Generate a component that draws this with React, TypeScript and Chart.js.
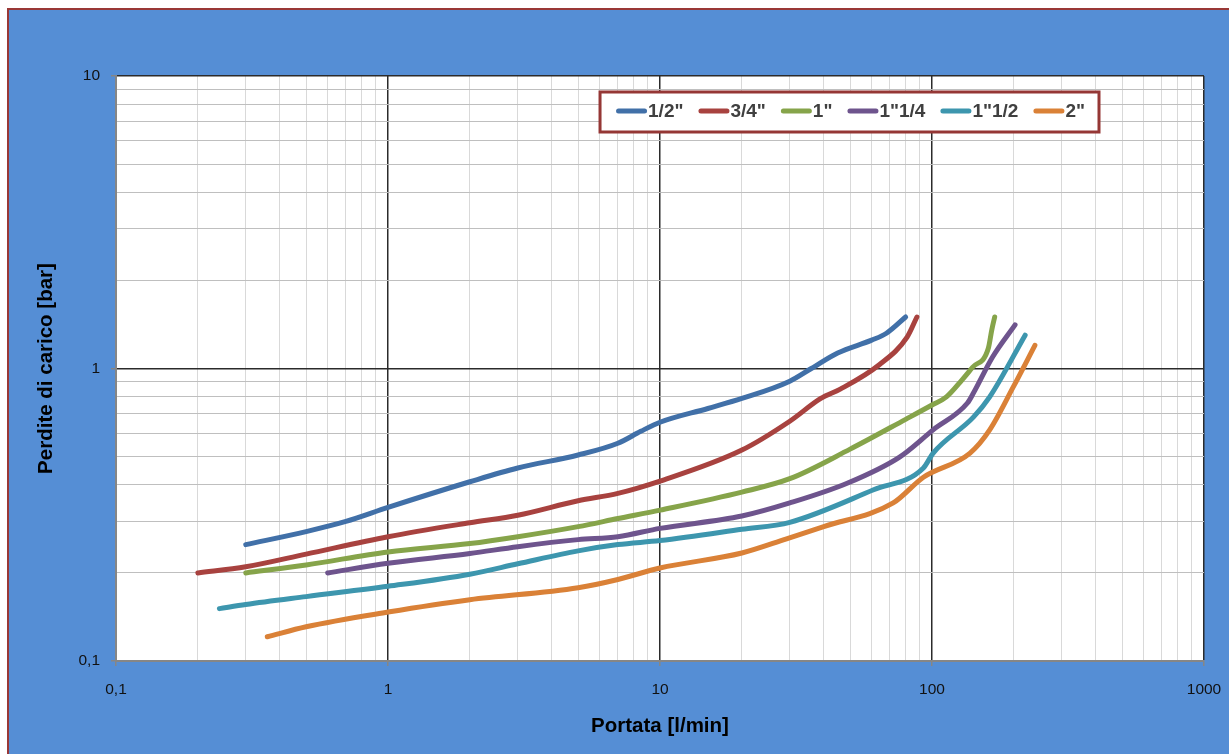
import { useEffect, useRef } from "react";
import { Chart, registerables } from "chart.js";

Chart.register(...registerables);

// ---- Data ----
const seriesLabels = ['1/2"', '3/4"', '1"', '1"1/4', '1"1/2', '2"'];
const seriesColors = ["#4170A8", "#A8423F", "#86A44A", "#6E548D", "#3D96AE", "#DA8137"];

const flowHalf = [0.3, 0.5, 0.7, 1, 2, 3, 5, 7, 8.5, 10, 15, 20, 30, 36, 45, 60, 68, 80];
const lossHalf = [0.25, 0.277, 0.3, 0.335, 0.41, 0.457, 0.506, 0.555, 0.61, 0.655, 0.73, 0.79, 0.905, 1.0, 1.13, 1.25, 1.32, 1.5];

const flowThreeQuarter = [0.2, 0.3, 0.5, 1, 2, 3, 5, 7, 10, 20, 30, 39, 46, 64, 81, 88];
const lossThreeQuarter = [0.2, 0.21, 0.232, 0.266, 0.297, 0.315, 0.353, 0.374, 0.412, 0.526, 0.66, 0.79, 0.85, 1.03, 1.28, 1.5];

const flowOne = [0.3, 0.5, 1, 2, 3, 5, 7, 10, 20, 30, 50, 80, 100, 113, 129, 141, 161, 166, 170];
const lossOne = [0.2, 0.213, 0.236, 0.252, 0.266, 0.288, 0.307, 0.328, 0.378, 0.42, 0.53, 0.67, 0.75, 0.8, 0.915, 1.01, 1.17, 1.36, 1.5];

const flowOneQuarter = [0.6, 1, 2, 3, 5, 7, 10, 20, 30, 49, 76, 101, 135, 142, 167, 202];
const lossOneQuarter = [0.2, 0.216, 0.233, 0.246, 0.26, 0.266, 0.284, 0.313, 0.347, 0.406, 0.498, 0.617, 0.762, 0.824, 1.095, 1.41];

const flowOneHalf = [0.24, 0.3, 0.5, 1, 2, 3, 5, 7, 10, 20, 30, 61, 93, 101, 142, 163, 220];
const lossOneHalf = [0.151, 0.156, 0.166, 0.18, 0.198, 0.215, 0.238, 0.25, 0.258, 0.282, 0.298, 0.385, 0.457, 0.514, 0.682, 0.8, 1.3];

const flowTwo = [0.36, 0.5, 1, 2, 5, 7, 10, 20, 29, 40, 72, 93, 138, 163, 199, 239];
const lossTwo = [0.121, 0.131, 0.147, 0.162, 0.178, 0.19, 0.208, 0.234, 0.261, 0.288, 0.347, 0.425, 0.514, 0.617, 0.865, 1.2];

const xTickValues = [0.1, 1, 10, 100, 1000];
const xTickLabels = ["0,1", "1", "10", "100", "1000"];
const yTickValues = [0.1, 1, 10];
const yTickLabels = ["0,1", "1", "10"];
const minorMultipliers = [1, 2, 3, 4, 5, 6, 7, 8, 9];

const xTitle = "Portata [l/min]";
const yTitle = "Perdite di carico [bar]";

const seriesFlows = [flowHalf, flowThreeQuarter, flowOne, flowOneQuarter, flowOneHalf, flowTwo];
const seriesLosses = [lossHalf, lossThreeQuarter, lossOne, lossOneQuarter, lossOneHalf, lossTwo];

// ---- helpers ----
const FONT = "'Liberation Sans', Arial, sans-serif";
const isPow10 = (v: number) => Math.abs(Math.log10(v) - Math.round(Math.log10(v))) < 1e-6;
const labelFor = (v: number, values: number[], labels: string[]) => {
  const i = values.findIndex((t) => Math.abs(t - v) / t < 1e-6);
  return i >= 0 ? labels[i] : "";
};
const gridTicks = (decades: number[]) => {
  const out: { value: number }[] = [];
  for (let d = 0; d < decades.length - 1; d++) {
    minorMultipliers.forEach((m) => out.push({ value: decades[d] * m }));
  }
  out.push({ value: decades[decades.length - 1] });
  return out;
};

const boxLegend = {
  id: "boxLegend",
  afterDraw(chart: any) {
    const { ctx, chartArea } = chart;
    ctx.save();
    ctx.font = `bold 19px ${FONT}`;
    const lineLen = 31;
    const textGap = 1;
    const itemGap = 15;
    const padL = 16;
    const padR = 14;
    const items = chart.data.datasets.map((ds: any) => ({
      label: ds.label as string,
      color: ds.borderColor as string,
      w: ctx.measureText(ds.label).width as number,
    }));
    const total =
      items.reduce((s: number, it: any) => s + lineLen + textGap + it.w, 0) +
      itemGap * (items.length - 1) +
      padL +
      padR;
    const right = chartArea.right - 105;
    const left = right - total;
    const top = chartArea.top + 16;
    const h = 40;
    ctx.fillStyle = "#ffffff";
    ctx.fillRect(left, top, total, h);
    ctx.strokeStyle = "#953735";
    ctx.lineWidth = 3;
    ctx.strokeRect(left, top, total, h);
    let x = left + padL;
    const cy = top + h / 2 - 1;
    items.forEach((it: any) => {
      ctx.strokeStyle = it.color;
      ctx.lineWidth = 5;
      ctx.lineCap = "round";
      ctx.beginPath();
      ctx.moveTo(x + 2.5, cy);
      ctx.lineTo(x + lineLen - 2.5, cy);
      ctx.stroke();
      x += lineLen + textGap;
      ctx.fillStyle = "#404040";
      ctx.textBaseline = "middle";
      ctx.textAlign = "left";
      ctx.fillText(it.label, x, cy + 1);
      x += it.w + itemGap;
    });
    ctx.restore();
  },
};

export default function App() {
  const canvasRef = useRef<HTMLCanvasElement | null>(null);

  useEffect(() => {
    const canvas = canvasRef.current;
    if (!canvas) return;
    const datasets = seriesLabels.map((label, i) => ({
      label,
      data: seriesFlows[i].map((x, j) => ({ x, y: seriesLosses[i][j] })),
      borderColor: seriesColors[i],
      backgroundColor: seriesColors[i],
      borderWidth: 5,
      borderCapStyle: "round" as const,
      borderJoinStyle: "round" as const,
      pointRadius: 0,
      pointHoverRadius: 0,
      fill: false,
      cubicInterpolationMode: "monotone" as const,
    }));

    const chart = new Chart(canvas, {
      type: "line",
      data: { datasets },
      options: {
        animation: false,
        responsive: false,
        maintainAspectRatio: false,
        layout: { padding: { top: 66, right: 25, left: 0, bottom: 0 } },
        plugins: {
          legend: { display: false },
          tooltip: { enabled: false },
        },
        scales: {
          x: {
            type: "logarithmic",
            min: 0.1,
            max: 1000,
            afterBuildTicks: (scale: any) => {
              scale.ticks = gridTicks(xTickValues);
            },
            afterFit: (scale: any) => {
              scale.height = 93;
              scale.paddingLeft = 0;
              scale.paddingRight = 0;
            },
            border: { color: "#868686", width: 2 },
            grid: {
              color: (c: any) => (c.tick && isPow10(c.tick.value) ? "#2b2b2b" : "#d9d9d9"),
              lineWidth: (c: any) => (c.tick && isPow10(c.tick.value) ? 1.5 : 1),
              tickColor: (c: any) => (c.tick && isPow10(c.tick.value) ? "#868686" : "rgba(0,0,0,0)"),
              tickLength: 5,
            },
            ticks: {
              autoSkip: false,
              maxRotation: 0,
              minRotation: 0,
              padding: 14,
              color: "#111111",
              font: { family: FONT, size: 15.5 },
              callback: (v: any) => labelFor(Number(v), xTickValues, xTickLabels),
            },
            title: {
              display: true,
              text: xTitle,
              color: "#000000",
              font: { family: FONT, size: 20.5, weight: "bold" },
              padding: { top: 0, bottom: 15 },
            },
          },
          y: {
            type: "logarithmic",
            min: 0.1,
            max: 10,
            afterBuildTicks: (scale: any) => {
              scale.ticks = gridTicks(yTickValues);
            },
            afterFit: (scale: any) => {
              scale.width = 107;
              scale.paddingTop = 0;
              scale.paddingBottom = 0;
            },
            border: { color: "#868686", width: 2 },
            grid: {
              color: (c: any) => (c.tick && isPow10(c.tick.value) ? "#2b2b2b" : "#bfbfbf"),
              lineWidth: (c: any) => (c.tick && isPow10(c.tick.value) ? 1.5 : 1),
              tickColor: (c: any) => (c.tick && isPow10(c.tick.value) ? "#868686" : "rgba(0,0,0,0)"),
              tickLength: 5,
            },
            ticks: {
              autoSkip: false,
              padding: 11,
              color: "#111111",
              font: { family: FONT, size: 15.5 },
              callback: (v: any) => labelFor(Number(v), yTickValues, yTickLabels),
            },
            title: {
              display: true,
              text: yTitle,
              color: "#000000",
              font: { family: FONT, size: 20.5, weight: "bold" },
              padding: { top: 25, bottom: 0 },
            },
          },
        },
      },
      plugins: [
        {
          id: "plotBg",
          beforeDraw(chart: any) {
            const { ctx, chartArea } = chart;
            ctx.save();
            ctx.fillStyle = "#ffffff";
            ctx.fillRect(chartArea.left, chartArea.top, chartArea.right - chartArea.left, chartArea.bottom - chartArea.top);
            ctx.restore();
          },
        },
        boxLegend,
      ],
    });
    return () => chart.destroy();
  }, []);

  return (
    <div
      style={{
        position: "fixed",
        left: 7,
        top: 8,
        right: 0,
        bottom: 0,
        borderLeft: "2px solid #993836",
        borderTop: "2px solid #993836",
        background: "#558ED5",
        overflow: "hidden",
      }}
    >
      <canvas ref={canvasRef} width={1220} height={744} style={{ display: "block" }} />
    </div>
  );
}
